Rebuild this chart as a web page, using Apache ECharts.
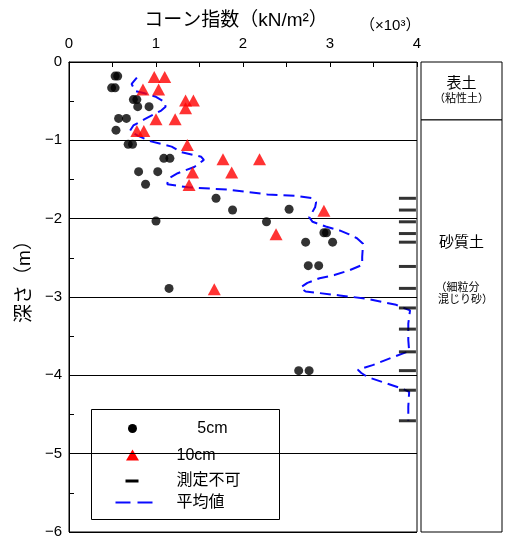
<!DOCTYPE html>
<html><head><meta charset="utf-8">
<script src="https://cdn.jsdelivr.net/npm/echarts@6/dist/echarts.min.js"></script>
<style>html,body{margin:0;padding:0;background:#fff}#c{width:512px;height:544px}</style>
</head><body><div id="c"></div>
<script>
// ---- data (cone index in kN/m2 ×10^3, depth in m) ----
const dot5X     = [0.53,0.56,0.49,0.53,0.74,0.78,0.79,0.92,0.57,0.66,0.54,0.68,0.73,1.09,1.16,0.80,1.02,0.88,1.69,1.88,2.53,1.00,2.27,2.93,2.96,2.72,3.03,2.75,2.87,1.15,2.64,2.76];
const dot5Depth = [-0.18,-0.18,-0.33,-0.33,-0.48,-0.48,-0.57,-0.57,-0.72,-0.72,-0.87,-1.05,-1.05,-1.23,-1.23,-1.40,-1.40,-1.56,-1.74,-1.89,-1.88,-2.03,-2.04,-2.18,-2.18,-2.30,-2.30,-2.60,-2.60,-2.89,-3.94,-3.94];
const tri10X     = [0.98,1.10,0.85,1.03,1.34,1.43,1.34,1.00,1.22,0.78,0.86,1.36,1.77,2.19,1.42,1.87,1.38,2.93,2.38,1.67];
const tri10Depth = [-0.19,-0.19,-0.35,-0.35,-0.49,-0.49,-0.59,-0.73,-0.73,-0.88,-0.88,-1.06,-1.24,-1.24,-1.41,-1.41,-1.57,-1.90,-2.20,-2.90];
const naX = 3.89;
const naDepth = [-1.74,-1.89,-2.04,-2.19,-2.30,-2.61,-2.89,-3.14,-3.41,-3.70,-3.94,-4.19,-4.58];
const avgX     = [0.78,0.72,0.76,0.87,0.99,1.10,1.11,1.06,0.87,0.74,0.70,0.79,0.93,1.18,1.29,1.52,1.55,1.44,1.25,1.14,1.13,1.37,1.83,2.28,2.62,2.80,2.84,2.83,2.79,2.76,2.80,2.95,3.11,3.22,3.31,3.38,3.37,3.37,3.22,3.05,2.88,2.74,2.66,2.72,2.88,3.11,3.41,3.76,3.92,3.90,3.90,3.91,3.72,3.49,3.32,3.36,3.43,3.64,3.83,3.91,3.90,3.90];
const avgDepth = [-0.20,-0.28,-0.37,-0.40,-0.44,-0.51,-0.57,-0.62,-0.73,-0.81,-0.88,-0.94,-1.01,-1.08,-1.15,-1.21,-1.25,-1.34,-1.42,-1.49,-1.56,-1.60,-1.63,-1.69,-1.71,-1.74,-1.79,-1.85,-1.93,-1.98,-2.04,-2.10,-2.15,-2.20,-2.25,-2.32,-2.49,-2.59,-2.66,-2.72,-2.76,-2.82,-2.88,-2.93,-2.95,-2.98,-3.02,-3.10,-3.17,-3.34,-3.55,-3.69,-3.77,-3.87,-3.93,-3.97,-4.02,-4.10,-4.17,-4.21,-4.40,-4.58];
const xTickLabels = ['0','1','2','3','4'];
const layerTop = [0, -0.74];
const layerBottom = [-0.74, -6];
const layerLabels = ['{a|表土}\n{b|（粘性土）}', '{a|砂質土}\n{s|}\n{c|（細粒分}\n{d|混じり砂）}'];

const FONT = 'Liberation Sans, Noto Sans CJK JP, sans-serif';
const zip = (xs, ys) => xs.map((x, i) => [x, ys[i]]);

const chart = echarts.init(document.getElementById('c'));
chart.setOption({
  animation: false,
  backgroundColor: '#fff',
  textStyle: { fontFamily: FONT, color: '#000' },
  grid: [
    { left: 69, top: 62, width: 348, height: 470, show: true, borderColor: '#000', borderWidth: 1, backgroundColor: 'transparent' },
    { left: 421, top: 62, width: 81, height: 470, show: false }
  ],
  xAxis: [
    { gridIndex: 0, type: 'value', position: 'top', min: 0, max: 4, interval: 1,
      name: 'コーン指数（kN/m²）', nameLocation: 'middle', nameGap: 32,
      nameTextStyle: { fontSize: 19, color: '#000', fontFamily: FONT, padding: [0, 14, 0, 0] },
      axisLine: { show: true, lineStyle: { color: '#000', width: 1 } },
      axisTick: { show: true, inside: true, length: 5, lineStyle: { color: '#000' } },
      minorTick: { show: true, splitNumber: 2, length: 5, lineStyle: { color: '#000' } },
      axisLabel: { fontSize: 15, color: '#000', margin: 11, formatter: (v) => xTickLabels[Math.round(v)] },
      splitLine: { show: false } },
    { gridIndex: 1, type: 'value', min: 0, max: 1, show: false }
  ],
  yAxis: [
    { gridIndex: 0, type: 'value', min: -6, max: 0, interval: 1,
      name: '深さ（m）', nameLocation: 'middle', nameGap: 30,
      nameTextStyle: { fontSize: 19, color: '#000', fontFamily: FONT, padding: [0, 0, 0, 40] },
      axisLine: { show: true, lineStyle: { color: '#000', width: 1 } },
      axisTick: { show: true, inside: true, length: 5, lineStyle: { color: '#000' } },
      minorTick: { show: true, splitNumber: 2, length: 5, lineStyle: { color: '#000' } },
      axisLabel: { fontSize: 15, color: '#000', margin: 7, formatter: (v) => String(v).replace('-', '−') },
      splitLine: { show: true, lineStyle: { color: '#000', width: 1 } } },
    { gridIndex: 1, type: 'value', min: -6, max: 0, show: false }
  ],
  series: [
    { name: '平均値', type: 'line', xAxisIndex: 0, yAxisIndex: 0, data: zip(avgX, avgDepth),
      symbol: 'none', smooth: false, z: 2,
      lineStyle: { color: '#0a0aff', width: 2, type: [11, 6] } },
    { name: '5cm', type: 'scatter', xAxisIndex: 0, yAxisIndex: 0, data: zip(dot5X, dot5Depth),
      symbol: 'circle', symbolSize: 9, itemStyle: { color: '#000' }, z: 3 },
    { name: '10cm', type: 'scatter', xAxisIndex: 0, yAxisIndex: 0, data: zip(tri10X, tri10Depth),
      symbol: 'triangle', symbolSize: [13, 12], itemStyle: { color: '#ff0000' }, z: 3 },
    { name: '測定不可', type: 'scatter', xAxisIndex: 0, yAxisIndex: 0, data: naDepth.map(d => [naX, d]),
      symbol: 'rect', symbolSize: [17, 3], itemStyle: { color: '#000' }, z: 3 },
    { name: 'layers', type: 'line', xAxisIndex: 1, yAxisIndex: 1, data: [], symbol: 'none',
      markArea: {
        silent: true,
        itemStyle: { color: '#fff', borderColor: '#000', borderWidth: 1 },
        data: layerTop.map((t, i) => [
          { xAxis: 0, yAxis: t, label: i === 0
              ? { show: true, position: 'inside', formatter: layerLabels[i] }
              : { show: true, position: 'insideTop', distance: 115, formatter: layerLabels[i] } },
          { xAxis: 1, yAxis: layerBottom[i] }
        ]),
        label: {
          color: '#000', fontFamily: FONT,
          rich: {
            a: { fontSize: 15, lineHeight: 16, fontFamily: FONT, color: '#000' },
            b: { fontSize: 11, lineHeight: 14, fontFamily: FONT, color: '#000' },
            s: { fontSize: 11, lineHeight: 32 },
            c: { fontSize: 11, lineHeight: 12, fontFamily: FONT, color: '#000', padding: [0, 8, 0, 0] },
            d: { fontSize: 11, lineHeight: 12, fontFamily: FONT, color: '#000', padding: [0, 0, 0, 8] }
          }
        }
      } }
  ],
  graphic: [
    { type: 'text', left: 360, top: 18, style: { text: '（×10³）', font: '15px ' + FONT, fill: '#000' } },
    { type: 'group', left: 91, top: 409, z: 100, children: [
      { type: 'rect', shape: { x: 0, y: 0, width: 188, height: 110 }, style: { fill: '#fff', stroke: '#000', lineWidth: 1 } },
      { type: 'circle', shape: { cx: 41, cy: 19, r: 4.5 }, style: { fill: '#000' } },
      { type: 'polygon', shape: { points: [[41, 40], [47.5, 51], [34.5, 51]] }, style: { fill: '#ff0000' } },
      { type: 'rect', shape: { x: 34, y: 70, width: 13, height: 3 }, style: { fill: '#000' } },
      { type: 'line', shape: { x1: 24, y1: 93, x2: 39, y2: 93 }, style: { stroke: '#0a0aff', lineWidth: 2 } },
      { type: 'line', shape: { x1: 46, y1: 93, x2: 61, y2: 93 }, style: { stroke: '#0a0aff', lineWidth: 2 } },
      { type: 'text', x: 136, y: 19, style: { text: '5cm', font: '16px ' + FONT, fill: '#000', align: 'right', verticalAlign: 'middle' } },
      { type: 'text', x: 85, y: 46, style: { text: '10cm', font: '16px ' + FONT, fill: '#000', verticalAlign: 'middle' } },
      { type: 'text', x: 85, y: 71, style: { text: '測定不可', font: '16px ' + FONT, fill: '#000', verticalAlign: 'middle' } },
      { type: 'text', x: 85, y: 93, style: { text: '平均値', font: '16px ' + FONT, fill: '#000', verticalAlign: 'middle' } }
    ] }
  ]
});
</script></body></html>
